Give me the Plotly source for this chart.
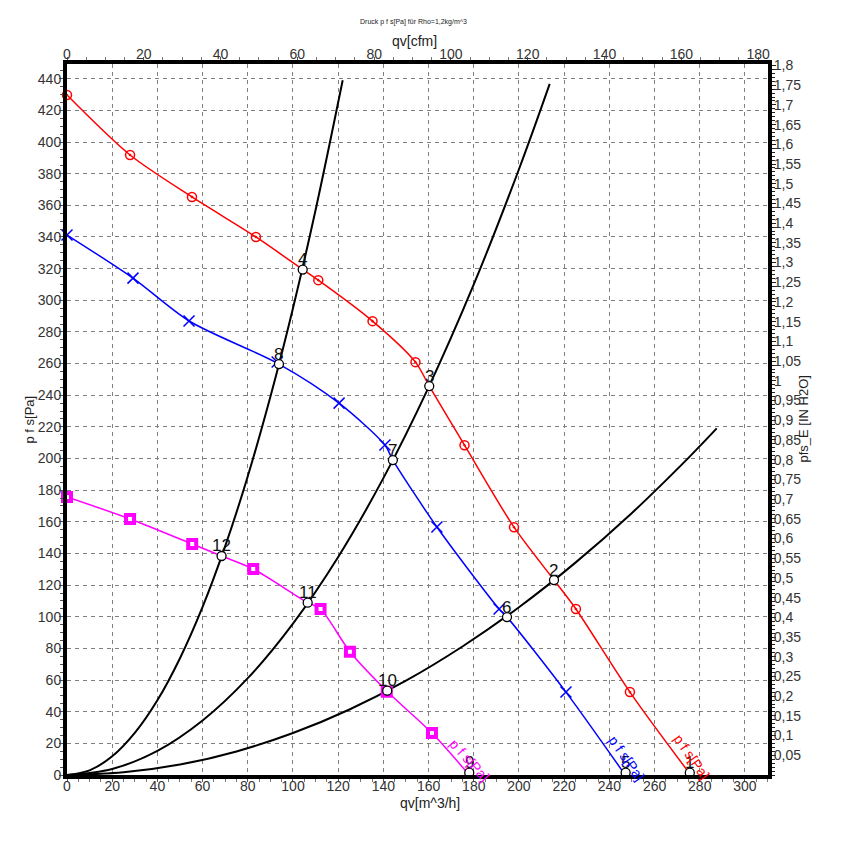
import plotly.graph_objects as go

# ---------------- data ----------------
# fan curve 1 (red, circles)
red_line_q = [0, 27.9, 55.3, 83.6, 104.3, 111.2, 135.2, 154.2, 160.3, 175.9, 197.8, 215.5, 225.2, 249.1, 276.0]
red_line_p = [429.7, 391.8, 365.3, 340.0, 319.4, 312.7, 286.8, 260.9, 245.8, 208.4, 156.6, 123.2, 104.9, 52.4, 0]
red_mark_q = [0, 27.9, 55.3, 83.6, 111.2, 135.2, 154.2, 175.9, 197.8, 225.2, 249.1]
red_mark_p = [429.7, 391.8, 365.3, 340.0, 312.7, 286.8, 260.9, 208.4, 156.6, 104.9, 52.4]

# fan curve 2 (blue, crosses)
blue_line_q = [0, 29.2, 54.0, 93.8, 120.4, 140.7, 144.2, 163.7, 191.2, 194.7, 220.8, 247.0]
blue_line_p = [341.2, 314.0, 286.9, 259.7, 235.0, 208.5, 199.0, 156.7, 104.9, 99.8, 52.4, 0]
blue_mark_q = [0, 29.2, 54.0, 93.0, 120.4, 140.7, 163.7, 191.2, 220.8]
blue_mark_p = [341.2, 314.0, 286.9, 261.0, 235.0, 208.5, 156.7, 104.9, 52.4]

# fan curve 3 (magenta, squares)
mag_line_q = [0, 27.9, 55.4, 68.4, 82.4, 106.5, 112.2, 125.2, 141.6, 161.5, 178.0]
mag_line_p = [175.7, 161.8, 146.0, 138.4, 130.2, 108.9, 104.9, 77.9, 52.9, 26.5, 0]
mag_mark_q = [0, 27.9, 55.4, 82.4, 112.2, 125.2, 141.5, 161.5]
mag_mark_p = [175.7, 161.8, 146.0, 130.2, 104.9, 77.9, 52.6, 26.5]

# system (resistance) curves, black
sys1_q = [0, 10, 20, 30, 40, 50, 60, 70, 80, 90, 100, 110, 122]
sys1_p = [0, 2.95, 11.8, 26.6, 47.2, 73.8, 106.2, 144.6, 188.8, 239.0, 295.0, 357.0, 439.0]
sys2_q = [0, 20, 40, 60, 80, 100, 120, 140, 160, 180, 200, 213.6]
sys2_p = [0, 3.8, 15.3, 34.5, 61.2, 95.7, 137.8, 187.6, 245.0, 310.0, 382.8, 436.7]
sys3_q = [0, 25, 50, 75, 100, 125, 150, 175, 200, 225, 250, 275, 287.5]
sys3_p = [0, 1.7, 6.6, 14.9, 26.5, 41.4, 59.6, 81.2, 106.0, 134.2, 165.6, 200.4, 219.0]

# operating points
op_labels = ["1", "2", "3", "4", "5", "6", "7", "8", "9", "10", "11", "12"]
op_q = [275.6, 215.5, 160.3, 104.3, 247.2, 194.7, 144.2, 93.8, 178.0, 141.7, 106.5, 68.4]
op_p = [1.5, 123.2, 245.8, 319.4, 1.5, 99.8, 199.0, 259.7, 1.5, 53.3, 108.9, 138.4]

# curve-end labels
curve_label_text = ["p f s[Pa]", "p f s[Pa]", "p f s[Pa]"]
curve_label_q = [276.5, 247.5, 178.0]
curve_label_p = [11.4, 10.7, 9.5]
curve_label_angle = [55, 55, 48]

# right-axis tick labels (IN H2O)
inh2o_ticks = [0.05, 0.1, 0.15, 0.2, 0.25, 0.3, 0.35, 0.4, 0.45, 0.5, 0.55, 0.6, 0.65, 0.7, 0.75, 0.8, 0.85, 0.9,
               0.95, 1.0, 1.05, 1.1, 1.15, 1.2, 1.25, 1.3, 1.35, 1.4, 1.45, 1.5, 1.55, 1.6, 1.65, 1.7, 1.75, 1.8]
inh2o_text = ["0,05", "0,1", "0,15", "0,2", "0,25", "0,3", "0,35", "0,4", "0,45", "0,5", "0,55", "0,6", "0,65",
              "0,7", "0,75", "0,8", "0,85", "0,9", "0,95", "1", "1,05", "1,1", "1,15", "1,2", "1,25", "1,3",
              "1,35", "1,4", "1,45", "1,5", "1,55", "1,6", "1,65", "1,7", "1,75", "1,8"]

Q_MAX = 310.2          # m^3/h
P_MAX = 449.3          # Pa
CFM = 1.699            # m^3/h per cfm
INH2O = 249.089        # Pa per inch H2O

RED = "#ff0000"
BLUE = "#0000ff"
MAG = "#ff00ff"
FONT = "Liberation Sans, Arial, sans-serif"

fig = go.Figure()

# system curves
for q, p in [(sys1_q, sys1_p), (sys2_q, sys2_p), (sys3_q, sys3_p)]:
    fig.add_trace(go.Scatter(x=q, y=p, mode="lines", line=dict(color="black", width=2, shape="spline"),
                             showlegend=False, hoverinfo="skip"))

# fan curves
fig.add_trace(go.Scatter(x=red_line_q, y=red_line_p, mode="lines",
                         line=dict(color=RED, width=1.5, shape="spline", smoothing=0.8), showlegend=False))
fig.add_trace(go.Scatter(x=red_mark_q, y=red_mark_p, mode="markers",
                         marker=dict(symbol="circle-open-dot", size=9, color=RED, line=dict(width=1.5, color=RED)),
                         showlegend=False, cliponaxis=False))

fig.add_trace(go.Scatter(x=blue_line_q, y=blue_line_p, mode="lines",
                         line=dict(color=BLUE, width=1.5, shape="spline", smoothing=0.8), showlegend=False))
fig.add_trace(go.Scatter(x=blue_mark_q, y=blue_mark_p, mode="markers",
                         marker=dict(symbol="x-thin-open", size=11, color=BLUE, line=dict(width=1.5, color=BLUE)),
                         showlegend=False, cliponaxis=False))

fig.add_trace(go.Scatter(x=mag_line_q, y=mag_line_p, mode="lines",
                         line=dict(color=MAG, width=1.5, shape="spline", smoothing=0.8), showlegend=False))
fig.add_trace(go.Scatter(x=mag_mark_q, y=mag_mark_p, mode="markers",
                         marker=dict(symbol="square", size=8, color="white", line=dict(width=4, color=MAG)),
                         showlegend=False, cliponaxis=False))

# operating points
fig.add_trace(go.Scatter(x=op_q, y=op_p, mode="markers",
                         marker=dict(symbol="circle", size=9, color="white", line=dict(width=1.3, color="black")),
                         showlegend=False, cliponaxis=False))

# dummy trace to activate secondary axes
fig.add_trace(go.Scatter(x=[None], y=[None], xaxis="x2", yaxis="y2", showlegend=False, hoverinfo="skip"))

annotations = []
for t, q, p in zip(op_labels, op_q, op_p):
    annotations.append(dict(x=q, y=p, xref="x", yref="y", text=t, showarrow=False, yshift=10,
                            xanchor="center", yanchor="middle",
                            font=dict(family=FONT, size=17, color="#111111")))
for t, q, p, a, c in zip(curve_label_text, curve_label_q, curve_label_p, curve_label_angle, [RED, BLUE, MAG]):
    annotations.append(dict(x=q, y=p, xref="x", yref="y", text=t, showarrow=False, textangle=a,
                            xanchor="center", yanchor="middle",
                            font=dict(family=FONT, size=14, color=c)))

# axis titles / title
C = dict(xanchor="center", yanchor="middle", showarrow=False, xref="paper", yref="paper")
annotations += [
    dict(x=-0.0528, y=0.5, text="p f s[Pa]", textangle=-90, font=dict(family=FONT, size=13, color="#222"), **C),
    dict(x=1.05, y=0.5, text="pfs_E [IN H2O]", textangle=-90, font=dict(family=FONT, size=13, color="#222"), **C),
    dict(x=0.518, y=-0.0394, text="qv[m^3/h]", font=dict(family=FONT, size=14, color="#222"), **C),
    dict(x=0.496, y=1.0325, text="qv[cfm]", font=dict(family=FONT, size=14, color="#222"), **C),
    dict(x=0.494, y=1.059, text="Druck p f s[Pa] für Rho=1,2kg/m^3", font=dict(family=FONT, size=7, color="#222"), **C),
]

tickfont = dict(family=FONT, size=14, color="#333")
grid = dict(showgrid=True, gridcolor="#808080", gridwidth=1, griddash="4px,4px")

# the page body has an 8px margin; the figure is sized so the plot area lands at x 67..768, y 64..775
fig.update_layout(
    width=830, height=832,
    margin=dict(l=59, r=70, t=56, b=65),
    paper_bgcolor="white", plot_bgcolor="white",
    showlegend=False,
    annotations=annotations,
    xaxis=dict(range=[0, Q_MAX], tick0=0, dtick=20, **grid, zeroline=False,
               showline=True, linewidth=4, linecolor="black",
               ticks="outside", ticklen=3, tickcolor="#555", tickfont=tickfont, ticklabelstandoff=-8,
               minor=dict(dtick=5, ticks="outside", ticklen=3, tickcolor="#777", showgrid=False)),
    yaxis=dict(range=[0, P_MAX], tick0=0, dtick=20, **grid, zeroline=False,
               showline=True, linewidth=4, linecolor="black",
               ticks="outside", ticklen=4, tickcolor="#555", tickfont=tickfont, ticklabelstandoff=-5,
               minor=dict(dtick=5, ticks="outside", ticklen=3, tickcolor="#555", showgrid=False)),
    xaxis2=dict(range=[0, Q_MAX / CFM], tick0=0, dtick=20, overlaying="x", side="top", anchor="y",
                showgrid=False, zeroline=False, showline=True, linewidth=4, linecolor="black",
                ticks="outside", ticklen=3, tickcolor="#555", tickfont=tickfont, ticklabelstandoff=-8,
                minor=dict(dtick=5, ticks="outside", ticklen=3, tickcolor="#777", showgrid=False)),
    yaxis2=dict(range=[0, P_MAX / INH2O], tickvals=inh2o_ticks, ticktext=inh2o_text,
                overlaying="y", side="right", anchor="x",
                showgrid=False, zeroline=False, showline=True, linewidth=4, linecolor="black",
                ticks="outside", ticklen=4, tickcolor="#222", tickfont=tickfont, ticklabelstandoff=-5,
                minor=dict(dtick=0.01, ticks="outside", ticklen=3, tickcolor="#222", showgrid=False)),
)

fig.write_html("out.html")
